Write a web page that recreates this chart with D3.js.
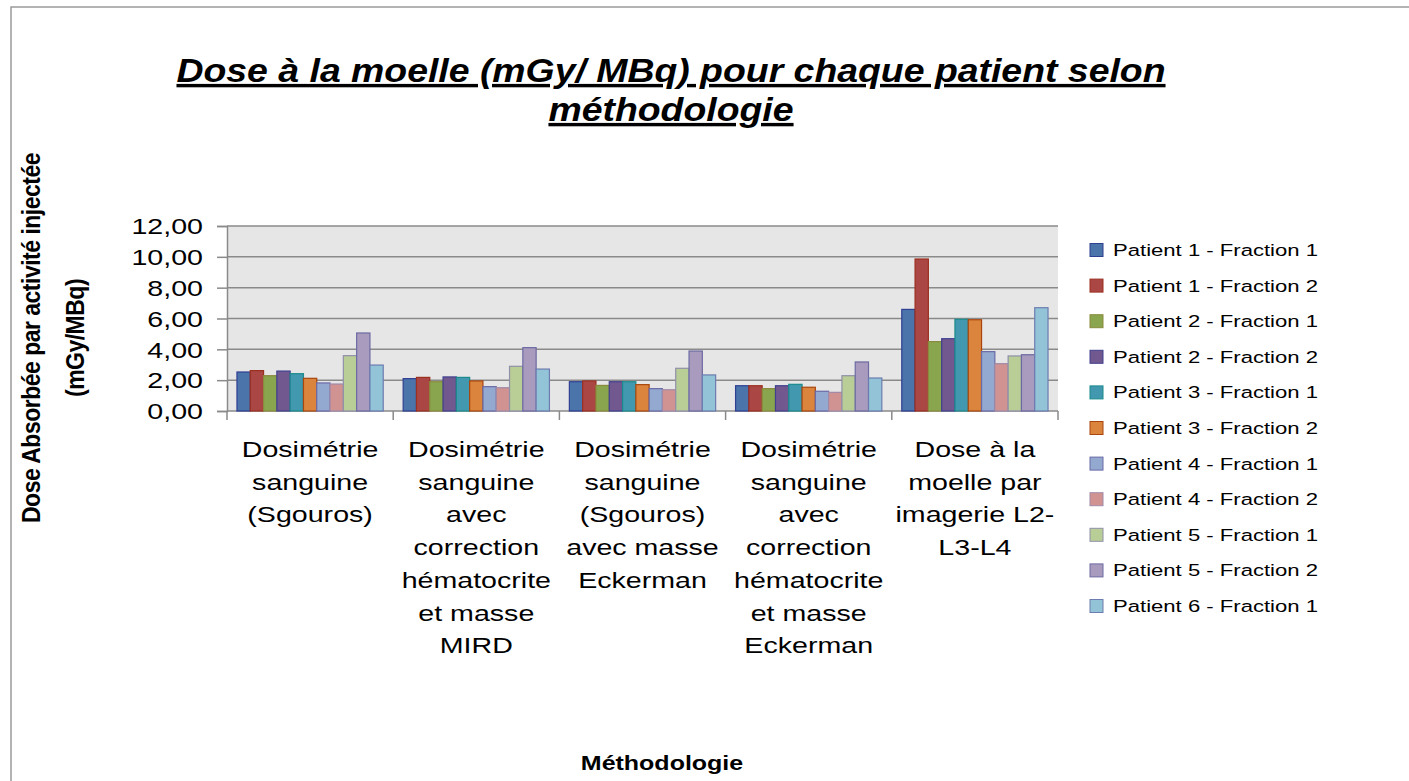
<!DOCTYPE html>
<html>
<head>
<meta charset="utf-8">
<script src="https://cdn.jsdelivr.net/npm/d3@7"></script>
<style>
  body { margin: 0; background: #fff; }
  text { font-family: "Liberation Sans", Arial, sans-serif; fill: #000; }
</style>
</head>
<body>
<div id="chart"></div>
<script>
// categories (tick labels, already split on lines as in the picture)
var categoryLines = [
    ["Dosimétrie", "sanguine", "(Sgouros)"],
    ["Dosimétrie", "sanguine", "avec", "correction", "hématocrite", "et masse", "MIRD"],
    ["Dosimétrie", "sanguine", "(Sgouros)", "avec masse", "Eckerman"],
    ["Dosimétrie", "sanguine", "avec", "correction", "hématocrite", "et masse", "Eckerman"],
    ["Dose à la", "moelle par", "imagerie L2-", "L3-L4"]
];
var seriesNames = [
    "Patient 1 - Fraction 1", "Patient 1 - Fraction 2",
    "Patient 2 - Fraction 1", "Patient 2 - Fraction 2",
    "Patient 3 - Fraction 1", "Patient 3 - Fraction 2",
    "Patient 4 - Fraction 1", "Patient 4 - Fraction 2",
    "Patient 5 - Fraction 1", "Patient 5 - Fraction 2",
    "Patient 6 - Fraction 1"
];
// one array per series, one value per category
var p1f1 = [2.53, 2.10, 1.90, 1.64, 6.59];
var p1f2 = [2.62, 2.18, 1.95, 1.64, 9.86];
var p2f1 = [2.29, 1.90, 1.66, 1.45, 4.50];
var p2f2 = [2.59, 2.21, 1.90, 1.64, 4.69];
var p3f1 = [2.42, 2.18, 1.90, 1.73, 5.95];
var p3f2 = [2.12, 1.95, 1.71, 1.54, 5.92];
var p4f1 = [1.82, 1.58, 1.45, 1.28, 3.85];
var p4f2 = [1.75, 1.51, 1.38, 1.21, 3.07];
var p5f1 = [3.59, 2.90, 2.77, 2.29, 3.57];
var p5f2 = [5.06, 4.11, 3.89, 3.18, 3.65];
var p6f1 = [2.98, 2.72, 2.34, 2.14, 6.70];
var yTicks = [0, 2, 4, 6, 8, 10, 12];

var seriesValues = [p1f1, p1f2, p2f1, p2f2, p3f1, p3f2, p4f1, p4f2, p5f1, p5f2, p6f1];

var fills   = ["#4a74aa", "#aa4644", "#89a54e", "#71588f", "#4198af", "#db843d",
               "#93a9cf", "#d19392", "#b9cd96", "#a99bbd", "#92c3d6"];
var strokes = ["#2f3f92", "#9c3020", "#8a8a3c", "#40408f", "#1a8a8c", "#a8460e",
               "#6a6aa8", "#a08aa8", "#9090a8", "#6c6aa2", "#6c7cb0"];

var W = 1409, H = 781;
var plot = { left: 227, right: 1058, top: 226, bottom: 411 };
var sx = 1.3; // the picture's text is stretched sideways

var svg = d3.select("#chart").append("svg")
    .attr("width", W)
    .attr("height", H);

// chart frame
svg.append("rect")
    .attr("x", 11).attr("y", 7)
    .attr("width", W + 20).attr("height", H + 20)
    .attr("fill", "none")
    .attr("stroke", "#9a9a9a")
    .attr("stroke-width", 1.5);

var xScale = d3.scaleBand()
    .domain(d3.range(categoryLines.length))
    .range([plot.left, plot.right]);
var xInner = d3.scaleBand()
    .domain(d3.range(seriesNames.length))
    .range([0, xScale.bandwidth()])
    .paddingOuter(0.75);
var yScale = d3.scaleLinear().domain([0, 12]).range([plot.bottom, plot.top]);

// plot background
svg.append("rect")
    .attr("x", plot.left).attr("y", plot.top)
    .attr("width", plot.right - plot.left)
    .attr("height", plot.bottom - plot.top)
    .attr("fill", "#e6e6e6");

// gridlines
svg.append("g")
    .selectAll("line")
    .data(yTicks.filter(function(d){ return d > 0; }))
    .enter().append("line")
    .attr("x1", plot.left).attr("x2", plot.right)
    .attr("y1", function(d){ return yScale(d); })
    .attr("y2", function(d){ return yScale(d); })
    .attr("stroke", "#8a8a8a")
    .attr("stroke-width", 1.5);

// y axis
var yAxis = svg.append("g")
    .attr("transform", "translate(" + plot.left + ",0)")
    .call(d3.axisLeft(yScale).tickValues(yTicks).tickSize(10).tickFormat(function(d){
        return d3.format(".2f")(d).replace(".", ",");
    }));
yAxis.select(".domain").attr("stroke", "#8a8a8a").attr("stroke-width", 1.5);
yAxis.selectAll(".tick line").attr("stroke", "#8a8a8a").attr("stroke-width", 1.5);
yAxis.selectAll(".tick text")
    .attr("x", 0).attr("dy", null).attr("y", 0)
    .attr("font-size", "22px")
    .attr("font-family", "Liberation Sans, Arial, sans-serif")
    .attr("dominant-baseline", "central")
    .attr("transform", "translate(-24,0) scale(" + sx + ",1)");

// x axis baseline and category ticks
var xBoundaries = d3.range(categoryLines.length + 1).map(function(i){
    return i < categoryLines.length ? xScale(i) : plot.right;
});
svg.append("line")
    .attr("x1", plot.left).attr("x2", plot.right)
    .attr("y1", plot.bottom).attr("y2", plot.bottom)
    .attr("stroke", "#8a8a8a").attr("stroke-width", 1.5);
svg.append("g").selectAll("line")
    .data(xBoundaries)
    .enter().append("line")
    .attr("x1", function(d){ return d; }).attr("x2", function(d){ return d; })
    .attr("y1", plot.bottom).attr("y2", plot.bottom + 9)
    .attr("stroke", "#8a8a8a").attr("stroke-width", 1.5);

// bars
var bars = svg.append("g");
seriesValues.forEach(function(vals, s){
    bars.selectAll(".s" + s)
        .data(vals)
        .enter().append("rect")
        .attr("class", "s" + s)
        .attr("x", function(d, i){ return xScale(i) + xInner(s); })
        .attr("width", xInner.bandwidth())
        .attr("y", function(d){ return yScale(d); })
        .attr("height", function(d){ return yScale(0) - yScale(d); })
        .attr("fill", fills[s])
        .attr("stroke", strokes[s])
        .attr("stroke-width", 1.2);
});

// category labels
var catG = svg.append("g");
categoryLines.forEach(function(lines, i){
    var cx = xScale(i) + xScale.bandwidth() / 2;
    catG.selectAll(".c" + i)
        .data(lines)
        .enter().append("text")
        .attr("class", "c" + i)
        .attr("text-anchor", "middle")
        .attr("font-size", "22px")
        .attr("transform", function(d, k){
            return "translate(" + cx + "," + (457 + k * 32.7) + ") scale(" + sx + ",1)";
        })
        .text(function(d){ return d; });
});

// legend
var legend = svg.append("g").selectAll("g")
    .data(seriesNames)
    .enter().append("g")
    .attr("transform", function(d, i){ return "translate(1090," + (250 + i * 35.6) + ")"; });
legend.append("rect")
    .attr("x", 0).attr("y", -6.5)
    .attr("width", 13).attr("height", 13)
    .attr("fill", function(d, i){ return fills[i]; })
    .attr("stroke", function(d, i){ return strokes[i]; })
    .attr("stroke-width", 1);
legend.append("text")
    .attr("transform", "translate(23,6) scale(" + sx + ",1)")
    .attr("font-size", "17px")
    .text(function(d){ return d; });

// title
var titleLines = ["Dose à la moelle (mGy/ MBq) pour chaque patient selon", "méthodologie"];
svg.append("g").selectAll("text")
    .data(titleLines)
    .enter().append("text")
    .attr("text-anchor", "middle")
    .attr("font-size", "34px")
    .attr("font-weight", "bold")
    .attr("font-style", "italic")
    .attr("text-decoration", "underline")
    .attr("transform", function(d, i){
        return "translate(671," + (82 + i * 39) + ") scale(1.1,1)";
    })
    .text(function(d){ return d; });

// axis titles
svg.append("text")
    .attr("text-anchor", "middle")
    .attr("font-size", "20px")
    .attr("font-weight", "bold")
    .attr("transform", "translate(662,770) scale(1.25,1)")
    .text("Méthodologie");

var yTitle = ["Dose Absorbée par activité injectée", "(mGy/MBq)"];
svg.append("g").selectAll("text")
    .data(yTitle)
    .enter().append("text")
    .attr("text-anchor", "middle")
    .attr("font-size", "23px")
    .attr("font-weight", "bold")
    .attr("letter-spacing", "-0.5px")
    .attr("transform", function(d, i){
        return "translate(" + (40 + i * 44) + ",338) scale(1.15,1) rotate(-90)";
    })
    .text(function(d){ return d; });
</script>
</body>
</html>
